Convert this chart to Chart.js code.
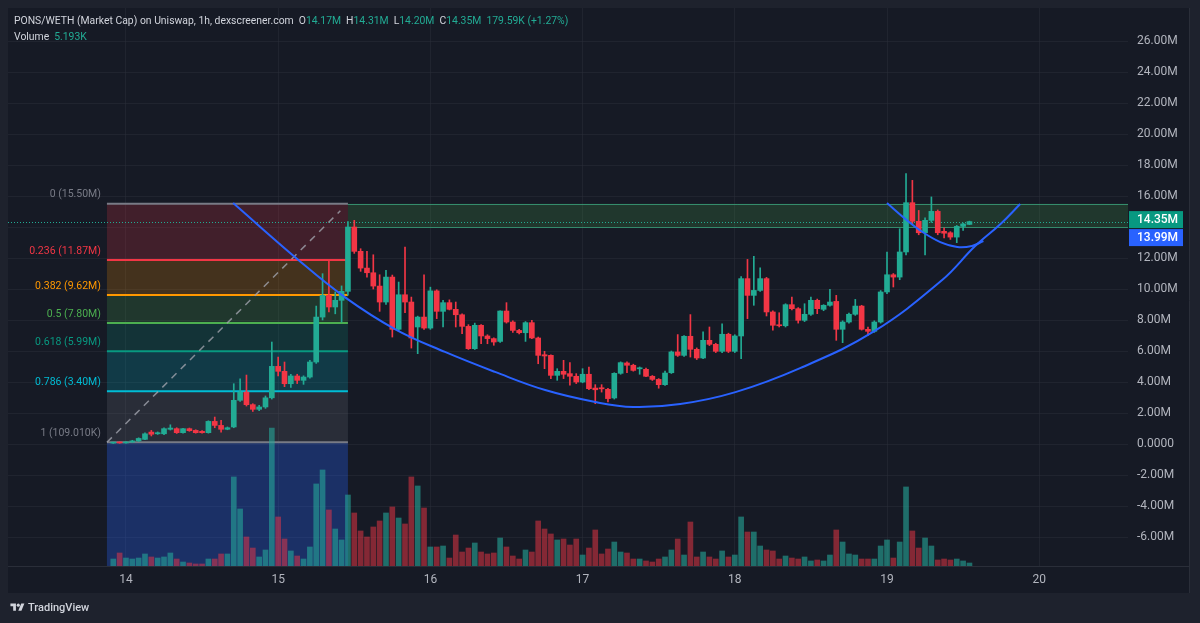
<!DOCTYPE html>
<html>
<head>
<meta charset="utf-8">
<script src="https://cdn.jsdelivr.net/npm/chart.js@4.4.1/dist/chart.umd.min.js"></script>
<style>
  body { margin: 0; background: #1e222d; font-family: Roboto, "Noto Sans", sans-serif; }
  #wrap { position: relative; width: 1200px; height: 623px; overflow: hidden; }
  #chart { position: absolute; left: 0; top: 0; }
  .hdr { position: absolute; left: 14px; top: 13px; font-size: 10.4px; line-height: 16px; color: #d1d4dc; white-space: nowrap; }
  .hdr .g { color: #22ab94; }
  .hdr .k { margin-left: 5px; }
  .logo { position: absolute; left: 10px; top: 600px; height: 14px; display: flex; align-items: center; color: #d1d4dc; font-size: 11px; font-weight: 500; }
  .logo svg { margin-right: 3px; }
</style>
</head>
<body>
<div id="wrap">
  <canvas id="chart" width="1200" height="623"></canvas>
  <div class="hdr">
    <div>PONS/WETH (Market Cap) on Uniswap, 1h, dexscreener.com<span class="k">O</span><span class="g">14.17M</span><span class="k">H</span><span class="g">14.31M</span><span class="k">L</span><span class="g">14.20M</span><span class="k">C</span><span class="g">14.35M</span><span class="k g">179.59K (+1.27%)</span></div>
    <div>Volume<span class="k g">5.193K</span></div>
  </div>
  <div class="logo">
    <svg width="15" height="11" viewBox="0 0 36 28"><path d="M14 22H7V11H0V4h14v18zM28 22h-8l7.5-18h8L28 22z" fill="#d1d4dc"/><circle cx="20" cy="8" r="4" fill="#d1d4dc"/></svg>
    <span>TradingView</span>
  </div>
</div>
<script>
// hourly candles, market cap in millions; first candle is 22:00 on the 13th
const firstHour = -2;
const dayLabels = ['14', '15', '16', '17', '18', '19', '20'];
const priceTicks = [26, 24, 22, 20, 18, 16, 14, 12, 10, 8, 6, 4, 2, 0, -2, -4, -6];

const openM = [
  0.06, 0.10, 0.07, 0.13, 0.20, 0.30, 0.77, 0.66, 0.66, 0.95,
  0.99, 0.73, 0.99, 0.88, 0.82, 0.73, 1.46, 1.20, 0.95, 1.10,
  2.82, 3.35, 2.54, 2.24, 2.39, 2.98, 5.01, 4.69, 3.89, 4.39,
  4.11, 4.32, 5.29, 8.19, 9.59, 8.84, 9.27, 9.85, 14.00, 12.43,
  11.35, 11.05, 10.19, 9.16, 10.77, 7.40, 9.63, 9.16, 7.55, 8.19,
  7.48, 9.88, 8.56, 9.12, 8.69, 8.34, 7.59, 6.15, 7.66, 6.97,
  6.80, 6.62, 8.58, 7.87, 7.33, 7.18, 7.83, 6.84, 5.76, 5.72,
  4.43, 4.69, 4.54, 4.37, 4.00, 4.50, 3.61, 3.63, 3.53, 2.97,
  4.56, 5.23, 5.08, 4.85, 4.82, 4.37, 4.17, 3.83, 4.60, 5.94,
  5.72, 6.95, 6.11, 5.55, 6.69, 6.43, 5.98, 7.08, 5.98, 6.97,
  10.67, 9.59, 9.91, 10.67, 8.52, 7.66, 7.63, 8.99, 8.73, 7.98,
  8.37, 9.27, 8.69, 8.95, 9.20, 7.40, 7.87, 8.37, 8.90, 7.40,
  7.27, 7.87, 9.81, 10.92, 10.77, 12.39, 15.57, 14.37, 13.63, 14.43,
  15.01, 13.72, 13.63, 13.35, 14.04, 14.17
];
const highM = [
  0.12, 0.14, 0.16, 0.24, 0.40, 0.72, 0.88, 0.78, 1.05, 1.24,
  1.05, 1.02, 1.03, 0.92, 0.86, 1.50, 1.74, 1.53, 1.10, 3.89,
  4.20, 4.45, 2.60, 2.50, 3.10, 6.58, 5.61, 5.29, 4.50, 4.50,
  4.40, 5.40, 8.90, 10.99, 11.90, 9.81, 10.20, 14.35, 14.43, 12.60,
  12.43, 12.21, 10.92, 11.20, 10.90, 10.45, 12.71, 9.48, 8.25, 10.92,
  10.12, 9.95, 9.27, 9.30, 9.16, 8.40, 7.70, 7.80, 7.70, 7.05,
  6.85, 8.60, 9.12, 7.95, 7.40, 7.90, 7.98, 6.90, 5.98, 5.75,
  4.86, 5.40, 5.25, 4.54, 4.86, 4.97, 3.83, 3.83, 3.60, 4.60,
  5.30, 5.30, 5.15, 4.97, 4.90, 4.42, 4.22, 4.70, 6.00, 7.06,
  7.00, 8.35, 6.20, 7.23, 7.55, 6.50, 7.76, 7.15, 7.05, 10.80,
  11.91, 12.11, 11.36, 10.75, 8.60, 8.47, 9.05, 9.48, 8.80, 9.05,
  9.48, 9.35, 8.99, 9.98, 9.59, 7.95, 8.45, 9.33, 8.95, 7.55,
  7.95, 9.90, 12.39, 11.00, 13.89, 17.44, 17.01, 15.07, 14.60, 15.94,
  15.10, 13.94, 13.70, 14.10, 14.25, 14.38
];
const lowM = [
  0.04, 0.05, 0.06, 0.10, 0.16, 0.28, 0.52, 0.62, 0.60, 0.90,
  0.68, 0.70, 0.82, 0.70, 0.70, 0.70, 1.05, 0.77, 0.92, 1.05,
  2.75, 2.45, 2.10, 2.15, 2.30, 2.90, 4.40, 3.70, 3.65, 3.90,
  3.85, 4.25, 5.20, 8.00, 8.52, 8.40, 7.87, 9.60, 12.30, 11.14,
  10.77, 10.00, 8.56, 9.00, 6.90, 7.30, 8.47, 6.19, 5.83, 7.40,
  7.40, 8.09, 7.55, 8.65, 7.55, 7.12, 6.10, 6.10, 6.47, 6.47,
  6.37, 6.55, 7.80, 7.20, 7.10, 6.62, 6.80, 5.18, 4.86, 4.22,
  4.11, 4.22, 3.79, 3.90, 3.95, 3.50, 2.60, 3.35, 2.71, 2.90,
  4.50, 4.61, 4.70, 4.50, 4.35, 4.10, 3.60, 3.78, 4.55, 5.65,
  5.65, 5.61, 5.45, 5.50, 6.35, 5.90, 5.90, 5.90, 5.90, 5.51,
  8.09, 8.95, 9.85, 8.26, 7.35, 7.55, 7.55, 8.65, 7.80, 7.90,
  8.30, 8.41, 8.60, 8.90, 6.69, 6.54, 7.80, 8.30, 7.35, 7.01,
  7.20, 7.80, 9.70, 10.13, 10.60, 12.20, 14.20, 13.50, 12.20, 14.30,
  13.50, 13.29, 13.20, 12.99, 13.78, 14.15
];
const closeM = [
  0.10, 0.07, 0.13, 0.20, 0.36, 0.66, 0.63, 0.73, 0.99, 1.03,
  0.73, 0.99, 0.86, 0.73, 0.73, 1.46, 1.20, 0.95, 1.05, 2.82,
  3.35, 2.54, 2.24, 2.39, 2.98, 5.01, 4.69, 3.89, 4.39, 4.11,
  4.32, 5.29, 8.19, 9.59, 8.84, 9.27, 9.85, 14.00, 12.43, 11.35,
  11.05, 10.19, 9.16, 10.77, 7.40, 9.63, 9.16, 6.84, 8.19, 7.48,
  9.88, 8.56, 9.12, 8.69, 8.34, 7.59, 6.15, 7.66, 6.97, 6.80,
  6.58, 8.58, 7.87, 7.33, 7.18, 7.83, 6.84, 5.72, 5.68, 4.43,
  4.69, 4.50, 4.37, 4.00, 4.50, 3.57, 3.50, 3.56, 2.93, 4.56,
  5.25, 5.08, 4.75, 4.92, 4.37, 4.17, 3.83, 4.58, 5.94, 5.72,
  6.95, 6.11, 5.55, 6.69, 6.43, 5.98, 7.08, 5.98, 6.97, 10.67,
  9.59, 9.91, 10.67, 8.52, 7.66, 7.63, 8.99, 8.73, 7.98, 8.37,
  9.27, 8.73, 8.95, 9.16, 7.40, 7.87, 8.37, 8.90, 7.40, 7.27,
  7.87, 9.81, 10.92, 10.77, 12.39, 15.57, 14.37, 13.63, 14.43, 15.01,
  13.63, 13.60, 13.35, 14.04, 14.20, 14.35
];
const volumeK = [
  12.1, 22.5, 13.8, 12.1, 13.8, 20.8, 15.6, 13.8, 15.6, 22.5,
  12.1, 6.9, 5.2, 3.5, 3.5, 12.1, 12.1, 20.8, 20.8, 154.0,
  98.6, 50.2, 31.1, 15.6, 27.7, 238.7, 84.8, 46.7, 26.0, 17.3,
  12.1, 32.9, 141.9, 166.1, 96.9, 64.0, 45.0, 122.8, 91.7, 60.6,
  50.2, 67.5, 77.9, 91.7, 102.1, 83.0, 72.7, 154.0, 138.4, 100.3,
  32.9, 32.9, 34.6, 13.8, 53.6, 24.2, 31.1, 39.8, 24.2, 20.8,
  22.5, 48.4, 32.9, 17.3, 12.1, 27.7, 24.2, 77.9, 64.0, 55.4,
  45.0, 46.7, 36.3, 46.7, 19.0, 31.1, 62.3, 20.8, 29.4, 41.5,
  24.2, 22.5, 12.1, 12.1, 8.7, 6.9, 12.1, 15.6, 27.7, 46.7,
  19.0, 76.1, 15.6, 24.2, 15.6, 12.1, 26.0, 15.6, 19.0, 84.8,
  58.8, 58.8, 34.6, 27.7, 26.0, 12.1, 17.3, 13.8, 12.1, 15.6,
  8.7, 10.4, 8.7, 19.0, 62.3, 41.5, 20.8, 19.0, 12.1, 12.1,
  12.1, 34.6, 45.0, 13.8, 41.5, 136.7, 60.6, 31.1, 48.4, 34.6,
  10.4, 12.1, 10.4, 12.1, 8.7, 5.193
];

// fibonacci retracement drawing
const fibRatios = ['0', '0.236', '0.382', '0.5', '0.618', '0.786', '1'];
const fibValues = [15.50, 11.87, 9.62, 7.80, 5.99, 3.40, 0.109];
const fibTexts = ['15.50M', '11.87M', '9.62M', '7.80M', '5.99M', '3.40M', '109.010K'];
const fibExtValue = -9.40;
const fibStartHour = -3;
const fibEndHour = 35;

// resistance zone
const zoneTop = 15.50;
const zoneBottom = 13.99;

// cup and handle curves (hours, value)
const cupHours = [16.9, 27.0, 34.5, 42.4, 50.3, 58.2, 66.1, 74.0, 80.0, 87.4, 96.1, 106.3, 117.8, 128.7, 133.9, 137.9, 141.0];
const cupValues = [15.55, 11.94, 9.48, 7.42, 5.94, 4.65, 3.48, 2.71, 2.39, 2.58, 3.35, 4.90, 7.23, 10.58, 12.77, 14.19, 15.48];
const handleHours = [120.0, 122.9, 125.6, 128.4, 131.1, 133.4, 135.2];
const handleValues = [15.55, 14.52, 13.68, 13.03, 12.71, 12.78, 13.10];

const green = '#22ab94';
const red = '#f23645';
const fibLineColors = ['#787b86', '#f23645', '#ff9800', '#4caf50', '#089981', '#00bcd4', '#787b86'];
const fibFillColors = ['rgba(242,54,69,0.2)', 'rgba(255,152,0,0.2)', 'rgba(76,175,80,0.2)', 'rgba(8,153,129,0.2)', 'rgba(0,188,212,0.2)', 'rgba(120,123,134,0.2)', 'rgba(41,98,255,0.3)'];

const hours = openM.map((v, i) => firstHour + i);
const up = openM.map((o, i) => closeM[i] >= o);
const candleColors = up.map(u => u ? green : red);
const volColors = up.map(u => u ? 'rgba(38,166,154,0.6)' : 'rgba(242,54,69,0.5)');

function fmtM(v) {
  return v === 0 ? '0.0000' : v.toFixed(2) + 'M';
}

function noPadding(scale) {
  scale.paddingTop = 0;
  scale.paddingBottom = 0;
  scale.paddingLeft = 0;
  scale.paddingRight = 0;
}

const drawingsPlugin = {
  id: 'drawings',
  beforeDraw(chart) {
    const { ctx, chartArea: a, scales } = chart;
    ctx.save();
    ctx.fillStyle = '#161a25';
    ctx.fillRect(a.left, a.top, scales.y.right - a.left, scales.x.bottom - a.top);
    ctx.strokeStyle = '#2a2e39';
    ctx.lineWidth = 1;
    ctx.beginPath();
    ctx.moveTo(a.left, a.bottom + 0.5);
    ctx.lineTo(scales.y.right, a.bottom + 0.5);
    ctx.moveTo(scales.y.right - 0.5, a.top);
    ctx.lineTo(scales.y.right - 0.5, scales.x.bottom);
    ctx.stroke();
    ctx.restore();
  },
  beforeDatasetsDraw(chart) {
    const { ctx, chartArea: a, scales } = chart;
    const X = v => scales.x.getPixelForValue(v);
    const Y = v => scales.y.getPixelForValue(v);
    ctx.save();
    ctx.beginPath();
    ctx.rect(a.left, a.top, a.right - a.left, a.bottom - a.top);
    ctx.clip();

    // zone
    const zx = X(fibEndHour);
    ctx.fillStyle = 'rgba(76,175,80,0.2)';
    ctx.fillRect(zx, Y(zoneTop), a.right - zx, Y(zoneBottom) - Y(zoneTop));
    ctx.strokeStyle = 'rgba(60,170,130,0.75)';
    ctx.lineWidth = 1;
    ctx.beginPath();
    ctx.moveTo(zx, Math.round(Y(zoneTop)) + 0.5);
    ctx.lineTo(a.right, Math.round(Y(zoneTop)) + 0.5);
    ctx.moveTo(zx, Math.round(Y(zoneBottom)) + 0.5);
    ctx.lineTo(a.right, Math.round(Y(zoneBottom)) + 0.5);
    ctx.stroke();

    // fib fills
    const x0 = X(fibStartHour), x1 = X(fibEndHour);
    const levels = fibValues.concat([fibExtValue]);
    for (let k = 0; k < levels.length - 1; k++) {
      ctx.fillStyle = fibFillColors[k];
      ctx.fillRect(x0, Y(levels[k]), x1 - x0, Y(levels[k + 1]) - Y(levels[k]));
    }
    // fib lines and labels
    ctx.lineWidth = 2;
    ctx.font = '10.5px Roboto, "Noto Sans", sans-serif';
    ctx.textAlign = 'right';
    ctx.textBaseline = 'middle';
    fibValues.forEach((v, k) => {
      const y = Y(v);
      ctx.strokeStyle = fibLineColors[k];
      ctx.beginPath();
      ctx.moveTo(x0, y);
      ctx.lineTo(x1, y);
      ctx.stroke();
      ctx.fillStyle = fibLineColors[k];
      ctx.fillText(fibRatios[k] + ' (' + fibTexts[k] + ')', x0 - 6, y - 9);
    });

    // last price dotted line
    const ly = Math.round(Y(closeM[closeM.length - 1])) + 0.5;
    ctx.strokeStyle = green;
    ctx.lineWidth = 1;
    ctx.setLineDash([1, 2]);
    ctx.beginPath();
    ctx.moveTo(a.left, ly);
    ctx.lineTo(a.right, ly);
    ctx.stroke();
    ctx.restore();
  },
  afterDraw(chart) {
    const { ctx, chartArea: a, scales } = chart;
    const y = scales.y.getPixelForValue(closeM[closeM.length - 1]);
    const h = 17, w = 54, x = a.right + 1;
    ctx.save();
    ctx.font = '500 12px Roboto, "Noto Sans", sans-serif';
    ctx.textBaseline = 'middle';
    ctx.textAlign = 'left';
    ctx.fillStyle = '#089981';
    ctx.fillRect(x, y - h / 2 - 2, w, h);
    ctx.fillStyle = '#ffffff';
    ctx.fillText(fmtM(closeM[closeM.length - 1]), x + 8, y - 2);
    ctx.fillStyle = '#2962ff';
    ctx.fillRect(x, y + h / 2 - 1, w, h);
    ctx.fillStyle = '#ffffff';
    ctx.fillText(fmtM(zoneBottom), x + 8, y + h - 1);
    ctx.restore();
  }
};

new Chart(document.getElementById('chart'), {
  type: 'bar',
  data: {
    datasets: [
      {
        type: 'line',
        data: cupHours.map((h, i) => ({ x: h, y: cupValues[i] })),
        borderColor: '#2962ff',
        borderWidth: 2,
        pointRadius: 0,
        tension: 0.4,
        order: 0
      },
      {
        type: 'line',
        data: handleHours.map((h, i) => ({ x: h, y: handleValues[i] })),
        borderColor: '#2962ff',
        borderWidth: 2,
        pointRadius: 0,
        tension: 0.4,
        order: 0
      },
      {
        type: 'line',
        data: [{ x: fibStartHour, y: fibValues[6] }, { x: fibEndHour - 1.2, y: fibValues[0] - 0.45 }],
        borderColor: 'rgba(160,163,172,0.8)',
        borderWidth: 1.5,
        borderDash: [7, 6],
        pointRadius: 0,
        order: 1
      },
      {
        data: hours.map((h, i) => ({ x: h, y: [openM[i], closeM[i]] })),
        backgroundColor: candleColors,
        barThickness: 5,
        minBarLength: 1,
        grouped: false,
        order: 2
      },
      {
        data: hours.map((h, i) => ({ x: h, y: [lowM[i], highM[i]] })),
        backgroundColor: candleColors,
        barThickness: 1,
        grouped: false,
        order: 3
      },
      {
        data: hours.map((h, i) => ({ x: h, y: volumeK[i] })),
        backgroundColor: volColors,
        barThickness: 5,
        grouped: false,
        yAxisID: 'yv',
        order: 4
      }
    ]
  },
  options: {
    responsive: false,
    animation: false,
    layout: { padding: { left: 8, top: 8, right: 10, bottom: 30 } },
    plugins: { legend: { display: false }, tooltip: { enabled: false } },
    scales: {
      x: {
        type: 'linear',
        min: -18.6,
        max: 158,
        offset: false,
        afterFit(scale) { scale.height = 27; noPadding(scale); },
        afterBuildTicks(scale) { scale.ticks = dayLabels.map((d, i) => ({ value: i * 24 })); },
        ticks: {
          color: '#b2b5be',
          font: { size: 12, family: 'Roboto, "Noto Sans", sans-serif' },
          padding: 7,
          maxRotation: 0,
          callback: (v, i) => dayLabels[i]
        },
        grid: { color: 'rgba(42,46,57,0.55)', drawTicks: false, offset: false },
        border: { display: false }
      },
      y: {
        position: 'right',
        min: -7.87,
        max: 28.13,
        afterFit(scale) { scale.width = 62; noPadding(scale); },
        afterBuildTicks(scale) { scale.ticks = priceTicks.map(v => ({ value: v })); },
        ticks: {
          color: '#b2b5be',
          font: { size: 12, family: 'Roboto, "Noto Sans", sans-serif' },
          padding: 9,
          callback: v => (v === 14 ? '' : fmtM(v))
        },
        grid: { color: 'rgba(42,46,57,0.55)', drawTicks: false },
        border: { display: false }
      },
      yv: {
        display: false,
        min: 0,
        max: 965,
        afterFit: noPadding
      }
    }
  },
  plugins: [drawingsPlugin]
});
</script>
</body>
</html>
